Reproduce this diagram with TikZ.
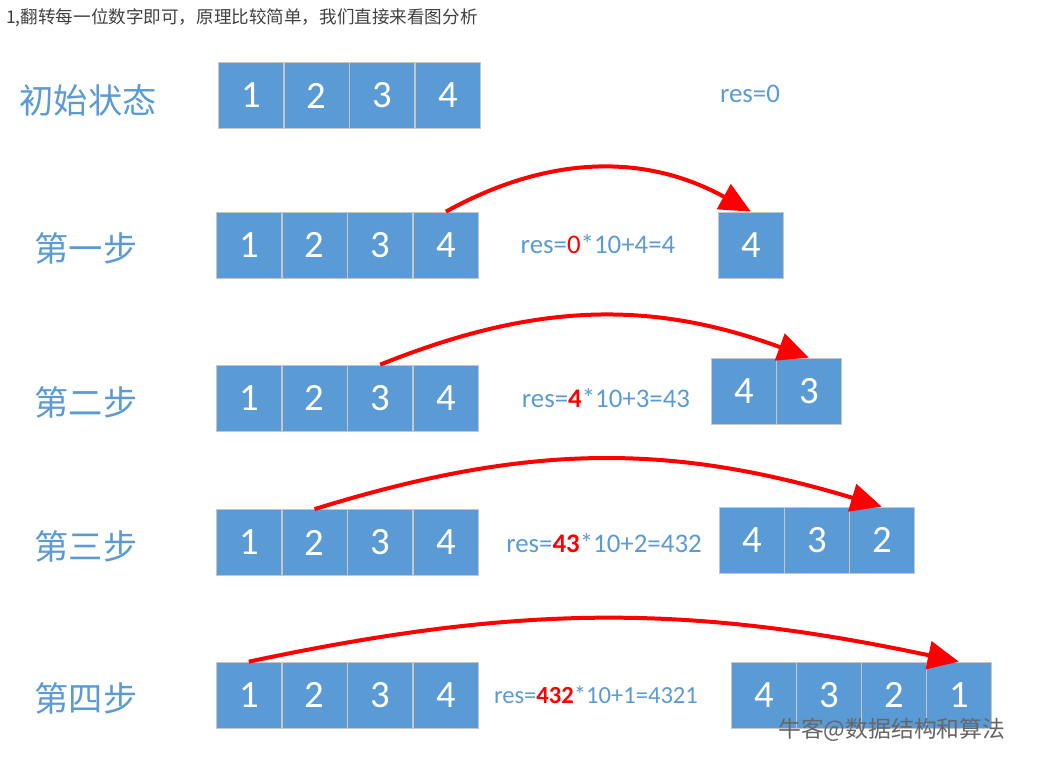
\documentclass[tikz,border=0pt]{standalone}
\usepackage{fontspec}
\setmainfont{Carlito}
\newfontfamily\cjk{Noto Sans CJK SC}
\usepackage{tikz}
\usetikzlibrary{arrows.meta, positioning}
\definecolor{cellblue}{HTML}{5B9BD5}
\definecolor{arrowred}{HTML}{FF0000}
\tikzset{
    cell/.style={rectangle, draw=gray!45, fill=cellblue, minimum width=1.3cm, minimum height=1.32cm, inner sep=0pt, text=white, font=\fontsize{22}{22}\selectfont},
    steplabel/.style={text=cellblue, font=\cjk\fontsize{19.5}{20}\selectfont},
    formula/.style={text=cellblue, font=\fontsize{15.3}{16}\selectfont},
    arrow/.style={-{Triangle[length=0.62cm, width=0.56cm]}, line width=0.08cm, draw=arrowred},
}

\begin{document}
\begin{tikzpicture}[
        x=0.02cm, y=0.02cm,
        note/.style={anchor=west, text=black!75, font=\cjk\fontsize{10}{12}\selectfont},
        watermark/.style={anchor=west, text=black!60, font=\cjk\fontsize{13}{14}\selectfont}
    ]
        \useasboundingbox (0,0) rectangle (1044,764);

        \node[note] (title) at (0,746) {1,翻转每一位数字即可，原理比较简单，我们直接来看图分析};

        % step labels
        \node[steplabel] (init) at (88,664) {初始状态};
        \node[steplabel] (step1) at (86,516) {第一步};
        \node[steplabel] (step2) at (86,362) {第二步};
        \node[steplabel] (step3) at (86,218) {第三步};
        \node[steplabel] (step4) at (86,66) {第四步};

        % the number 1234 in each row
        \foreach \r/\x/\y in {0/218/668.5, 1/216/519, 2/216/366, 3/216/221.5, 4/216/69} {
            \node[cell, anchor=west] (src\r-1) at (\x,\y) {1};
            \foreach \d [remember=\d as \p (initially 1)] in {2,3,4}
                \node[cell, right=0pt of src\r-\p] (src\r-\d) {\d};
        }

        % reversed result so far
        \foreach \r/\x/\y/\digits in {1/718/519/{4}, 2/711/373/{4,3}, 3/719/224/{4,3,2}, 4/731/69/{4,3,2,1}} {
            \foreach \d [count=\i] in \digits
                \node[cell, anchor=west] (dst\r-\i) at ({\x+65*(\i-1)},\y) {\d};
        }

        \node[formula] (res0) at (750,670) {res=0};
        \node[formula] (res1) at (598,520) {res=\textcolor{arrowred}{0}*10+4=4};
        \node[formula] (res2) at (606,366) {res=\textcolor{arrowred}{\bfseries 4}*10+3=43};
        \node[formula] (res3) at (604,221) {res=\textcolor{arrowred}{\bfseries 43}*10+2=432};
        \node[formula, font=\fontsize{14}{15}\selectfont] (res4) at (596,69) {res=\textcolor{arrowred}{\bfseries 432}*10+1=4321};

        \draw[arrow] (src1-4.north) to[bend left=29] (dst1-1.north);
        \draw[arrow] (src2-3.north) to[bend left=21] (dst2-2.north);
        \draw[arrow] (src3-2.north) to[bend left=17] (dst3-3.north);
        \draw[arrow] (src4-1.north) to[bend left=12] (dst4-4.north);

        \node[watermark] (wm) at (772,34) {牛客@数据结构和算法};
    \end{tikzpicture}
\end{document}
